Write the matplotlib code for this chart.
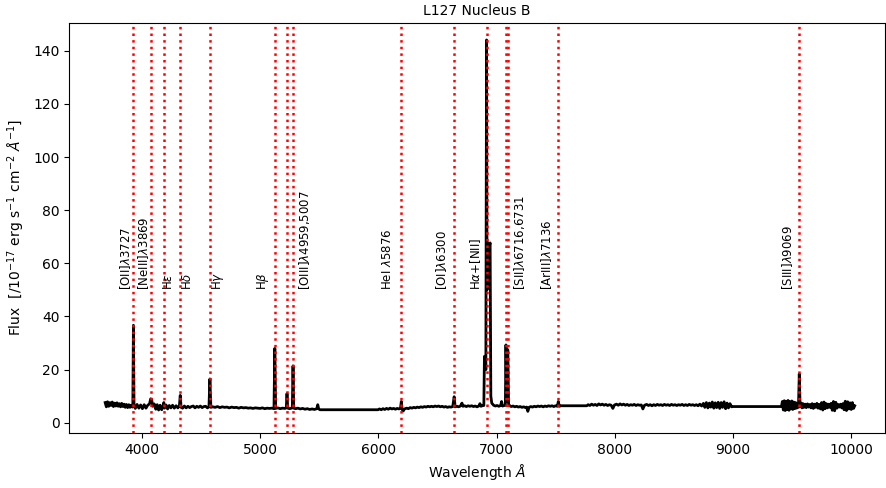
from __future__ import annotations

from pathlib import Path

import matplotlib
import numpy as np

matplotlib.use("Agg", force=True)
import matplotlib.pyplot as plt


TITLE = "L127 Nucleus B"
REDSHIFT = 0.0543

# observed spectrum, hand-sampled (wavelength in Angstrom, flux in 1e-17 cgs)
wave = [
    3690, 3700, 3710, 3720, 3730, 3740, 3750, 3760, 3770, 3780, 3790, 3800,
    3810, 3820, 3830, 3840, 3850, 3860, 3870, 3880, 3890, 3900, 3910, 3920,
    3924, 3929, 3934, 3945, 3960, 3975, 3990, 4005, 4020, 4035, 4050, 4065,
    4075, 4083, 4092, 4105, 4118, 4130, 4142, 4155, 4168, 4180, 4186, 4192,
    4205, 4218, 4232, 4246, 4260, 4275, 4290, 4305, 4318, 4325, 4332, 4345,
    4360, 4375, 4390, 4405, 4420, 4435, 4450, 4465, 4480, 4495, 4510, 4525,
    4540, 4555, 4568, 4576, 4584, 4600, 4620, 4640, 4660, 4680, 4700, 4720,
    4740, 4760, 4780, 4800, 4820, 4840, 4860, 4880, 4900, 4920, 4940, 4960,
    4980, 5000, 5020, 5040, 5060, 5080, 5100, 5118, 5125, 5132, 5150, 5170,
    5190, 5210, 5222, 5228, 5234, 5250, 5265, 5273, 5279, 5285, 5300, 5320,
    5340, 5360, 5380, 5400, 5420, 5440, 5460, 5480, 5488, 5496, 5507, 5998,
    6010, 6025, 6040, 6055, 6070, 6085, 6100, 6115, 6130, 6145, 6160, 6175,
    6188, 6195, 6202, 6210, 6222, 6240, 6255, 6270, 6285, 6300, 6315, 6330,
    6345, 6360, 6375, 6390, 6405, 6420, 6435, 6450, 6465, 6480, 6495, 6510,
    6525, 6540, 6555, 6570, 6585, 6600, 6615, 6630, 6642, 6650, 6665, 6680,
    6695, 6708, 6716, 6730, 6745, 6760, 6775, 6790, 6805, 6820, 6835, 6850,
    6860, 6868, 6880, 6893, 6898, 6904, 6910, 6916, 6920, 6927, 6937, 6946,
    6952, 6960, 6975, 6990, 7005, 7020, 7035, 7043, 7051, 7065, 7075, 7080,
    7086, 7090, 7096, 7102, 7112, 7125, 7140, 7155, 7170, 7185, 7200, 7215,
    7230, 7245, 7255, 7265, 7275, 7290, 7305, 7320, 7335, 7350, 7365, 7380,
    7395, 7410, 7425, 7440, 7455, 7470, 7485, 7500, 7515, 7523, 7531, 7545,
    7553, 7764, 7775, 7790, 7805, 7820, 7835, 7850, 7865, 7880, 7895, 7910,
    7925, 7940, 7955, 7970, 7984, 7998, 8015, 8030, 8045, 8060, 8075, 8090,
    8105, 8120, 8135, 8150, 8165, 8180, 8195, 8210, 8225, 8238, 8252, 8270,
    8285, 8300, 8315, 8330, 8345, 8360, 8375, 8390, 8405, 8420, 8435, 8450,
    8465, 8480, 8495, 8510, 8525, 8540, 8555, 8570, 8585, 8600, 8615, 8630,
    8645, 8660, 8675, 8690, 8705, 8720, 8735, 8750, 8762, 8775, 8788, 8800,
    8812, 8825, 8838, 8850, 8862, 8875, 8888, 8900, 8912, 8925, 8938, 8950,
    8962, 8975, 8988, 9000, 9410, 9418, 9426, 9434, 9442, 9450, 9458, 9466,
    9474, 9482, 9490, 9498, 9506, 9514, 9522, 9530, 9538, 9546, 9554, 9561,
    9568, 9576, 9584, 9592, 9600, 9610, 9620, 9630, 9640, 9650, 9660, 9670,
    9680, 9690, 9700, 9710, 9720, 9730, 9740, 9750, 9760, 9770, 9780, 9790,
    9800, 9810, 9820, 9830, 9840, 9850, 9860, 9870, 9880, 9890, 9900, 9910,
    9920, 9930, 9940, 9950, 9960, 9970, 9980, 9990, 10000, 10010, 10020, 10030,
]
flux = [
    7.6, 6.0, 7.9, 6.2, 7.6, 6.5, 7.8, 6.1, 7.4, 6.3, 7.5, 6.2,
    7.2, 6.0, 7.3, 6.1, 7.0, 5.8, 6.9, 5.7, 6.8, 5.8, 6.6, 5.9,
    6.5, 36.7, 6.4, 5.4, 6.9, 5.5, 6.7, 5.3, 6.8, 5.5, 6.6, 7.1,
    9.0, 8.8, 6.2, 7.1, 5.1, 6.8, 4.8, 6.6, 4.9, 6.4, 7.6, 5.5,
    6.7, 5.2, 6.5, 5.6, 6.6, 5.5, 6.4, 5.6, 6.5, 10.3, 5.8, 5.5,
    6.3, 5.6, 6.2, 5.7, 6.1, 6.3, 5.6, 6.2, 5.8, 6.3, 5.7, 6.1,
    6.2, 5.6, 6.0, 16.5, 5.8, 6.0, 5.8, 6.1, 5.7, 6.0, 5.8, 5.9,
    5.6, 5.9, 5.7, 5.8, 5.5, 5.8, 5.6, 5.7, 5.5, 5.6, 5.4, 5.6,
    5.5, 5.4, 5.6, 5.3, 5.5, 5.4, 5.5, 5.3, 28.0, 5.4, 5.6, 5.3,
    5.5, 5.4, 5.6, 11.0, 5.5, 5.3, 5.5, 5.6, 21.4, 5.5, 5.3, 5.5,
    5.2, 5.4, 5.1, 5.3, 5.0, 5.2, 5.0, 5.3, 6.8, 5.2, 4.9, 4.9,
    5.2, 4.9, 5.3, 5.0, 5.4, 5.1, 5.5, 5.2, 5.4, 5.1, 5.4, 5.2,
    5.5, 8.0, 5.0, 4.4, 5.2, 5.5, 5.3, 5.7, 5.5, 5.8, 5.6, 5.9,
    5.7, 6.0, 5.8, 6.1, 5.9, 6.2, 6.0, 6.2, 6.0, 6.3, 6.1, 6.3,
    6.0, 6.2, 5.9, 6.1, 5.8, 6.0, 5.9, 6.1, 9.8, 6.0, 6.2, 6.0,
    6.3, 7.4, 6.2, 6.4, 6.1, 6.4, 6.2, 6.4, 6.1, 6.3, 6.0, 6.3,
    7.2, 6.2, 6.4, 6.5, 25.0, 25.0, 20.0, 144.1, 50.0, 67.7, 66.0, 67.7,
    10.0, 7.4, 6.6, 6.3, 6.5, 6.2, 6.5, 8.0, 6.3, 6.5, 6.6, 29.3,
    8.0, 26.8, 27.5, 7.0, 6.4, 6.1, 6.3, 6.0, 6.2, 5.9, 6.1, 5.8,
    6.0, 5.7, 5.9, 4.3, 5.8, 6.1, 5.9, 6.2, 6.0, 6.3, 6.1, 6.3,
    6.0, 6.3, 6.1, 6.4, 6.2, 6.4, 6.1, 6.4, 6.2, 8.0, 6.2, 6.4,
    6.4, 6.4, 6.8, 6.5, 7.0, 6.6, 6.9, 6.5, 7.1, 6.7, 7.0, 6.6,
    6.9, 6.5, 6.8, 6.6, 5.4, 6.7, 7.0, 6.6, 7.1, 6.7, 7.0, 6.6,
    6.9, 6.5, 6.8, 6.6, 6.9, 6.5, 6.8, 6.6, 6.7, 5.2, 6.6, 6.9,
    6.5, 6.8, 6.4, 6.8, 6.5, 6.9, 6.6, 6.8, 6.5, 6.9, 6.6, 6.8,
    6.5, 6.9, 6.6, 6.8, 6.5, 6.8, 6.6, 6.9, 6.5, 6.8, 6.5, 6.9,
    6.6, 6.8, 6.5, 6.8, 6.4, 7.0, 6.3, 7.3, 5.8, 7.6, 5.6, 7.4,
    5.9, 7.8, 5.5, 7.5, 5.7, 7.7, 5.4, 7.6, 5.8, 7.9, 5.3, 7.4,
    5.6, 7.2, 6.0, 6.1, 6.1, 8.0, 4.8, 8.3, 4.6, 8.1, 5.0, 8.4,
    4.7, 7.9, 5.2, 8.2, 5.0, 7.8, 5.3, 7.6, 5.5, 7.3, 5.8, 18.4,
    6.0, 7.4, 5.6, 7.2, 5.8, 7.0, 5.7, 7.1, 5.9, 6.9, 5.6, 7.2,
    5.4, 7.0, 5.8, 7.3, 5.5, 6.9, 5.2, 7.6, 4.8, 7.8, 5.3, 7.2,
    5.6, 7.0, 5.8, 7.3, 4.7, 8.0, 4.5, 7.7, 5.5, 6.9, 5.9, 7.0,
    5.6, 7.2, 4.9, 8.1, 4.6, 7.9, 5.2, 7.5, 5.0, 7.6, 5.4, 6.4,
]

# emission lines: rest wavelengths (one vertical marker each)
line_rest = [3727, 3869, 3970, 4102, 4340, 4861, 4959, 5007,
             5876, 6300, 6563, 6716, 6731, 7136, 9069]

# line labels and the observed wavelength each label is written at
label_text = [
    r"[OII]$\lambda$3727", r"[NeIII]$\lambda$3869", r"H$\epsilon$",
    r"H$\delta$", r"H$\gamma$", r"H$\beta$", r"[OIII]$\lambda$4959,5007",
    r"HeI $\lambda$5876", r"[OI]$\lambda$6300", r"H$\alpha$+[NII]",
    r"[SII]$\lambda$6716,6731", r"[ArIII]$\lambda$7136", r"[SIII]$\lambda$9069",
]
label_wave = [3859, 4011, 4225, 4387, 4641, 5025, 5372,
              6074, 6538, 6826, 7198, 7427, 9463]
LABEL_FLUX = 50


def main(out: Path) -> None:
    fig = plt.figure(figsize=(8.86, 4.88), dpi=100)
    ax = fig.add_axes([0.078, 0.113, 0.921, 0.840])

    ax.plot(wave, flux, color="black", lw=2.0)
    for rest in line_rest:
        ax.axvline(rest * (1 + REDSHIFT), color="red", ls=":", lw=1.8)
    for text, x in zip(label_text, label_wave):
        ax.text(x, LABEL_FLUX, text, rotation=90, ha="center", va="bottom", fontsize=8.5)

    ax.set_xlim(3385, 10287)
    ax.set_ylim(-3.8, 150.5)
    ax.set_title(TITLE, fontsize=10)
    ax.set_xlabel(r"Wavelength $\AA$")
    ax.set_ylabel(r"Flux  [/10$^{-17}$ erg s$^{-1}$ cm$^{-2}$ $\AA^{-1}$]")

    fig.savefig(out, dpi=100)
    plt.close(fig)


if __name__ == "__main__":
    main(Path("out.png"))
